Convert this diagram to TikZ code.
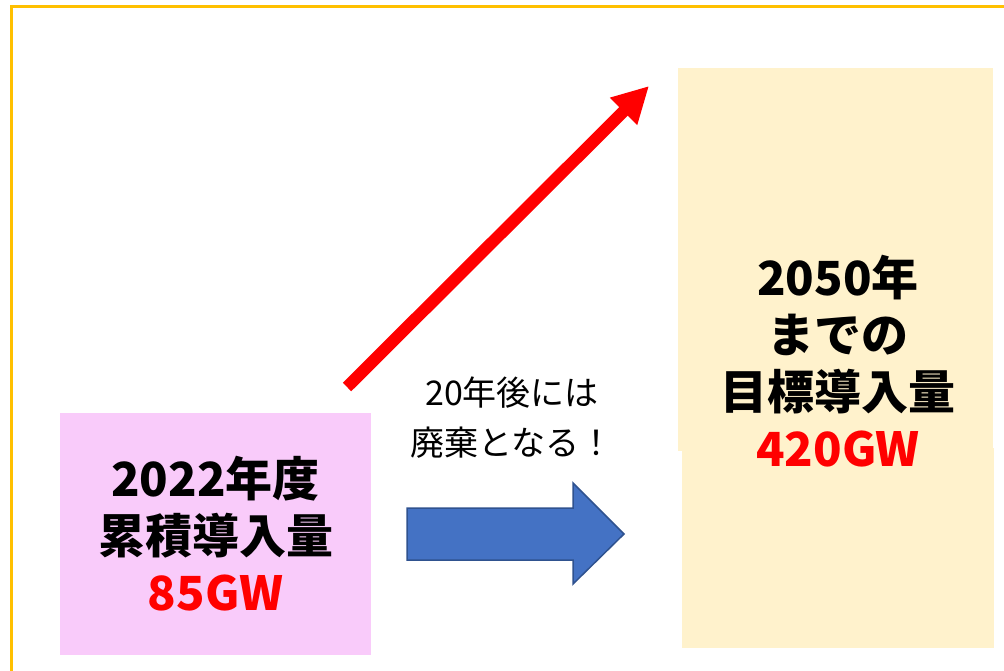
\documentclass[tikz,border=0pt]{standalone}
\usepackage{fontspec}
\newfontfamily\jp{Noto Sans CJK JP}
\usetikzlibrary{arrows.meta}
\definecolor{frameorange}{HTML}{FFC000}
\definecolor{pinkfill}{HTML}{F9CBFA}
\definecolor{creamfill}{HTML}{FFF2CC}
\definecolor{bluefill}{HTML}{4472C4}
\definecolor{blueedge}{HTML}{2F528F}
\tikzset{
  frame/.style={draw=frameorange, line width=3pt},
  pinkbox/.style={fill=pinkfill, draw=none, minimum width=311pt, minimum height=242pt, inner sep=0pt},
  creambox/.style={fill=creamfill, draw=none, inner sep=0pt},
  bigtext/.style={font=\jp\bfseries\fontsize{47pt}{57pt}\selectfont, align=center, text=black},
  midtext/.style={font=\jp\fontsize{34pt}{50pt}\selectfont, align=center, text=black},
  redarrow/.style={draw=red, line width=12pt, -{Triangle[width=36pt,length=36pt]}},
  bluearrow/.style={fill=bluefill, draw=blueedge, line width=1.5pt, line join=miter}
}
\begin{document}
\begin{tikzpicture}[x=1pt,y=-1pt]
\useasboundingbox (0,0) rectangle (1004,671);
\clip (0,0) rectangle (1004,671);
\draw[frame] (11,7) rectangle (1040,710);
% cream target box (two overlapping pieces)
\node[creambox, minimum width=312pt, minimum height=200pt] (targetlow) at (838,548) {};
\node[creambox, minimum width=315pt, minimum height=383pt] (targetbox) at (835.5,259.5) {};
\node[bigtext] (targettext) at (838,361) {2050年\\までの\\目標導入量\\\textcolor{red}{420GW}};
% pink source box
\node[pinkbox] (srcbox) at (215.5,534) {};
\node[bigtext] (srctext) at (215.5,534) {2022年度\\累積導入量\\\textcolor{red}{85GW}};
% red arrow
\coordinate (redtail) at (347,387);
\coordinate (redtip) at (649,86);
\draw[redarrow] (redtail) -- (redtip);
% middle text
\node[midtext] (midnote) at (512,418) {20年後には\\廃棄となる！};
% blue block arrow
\filldraw[bluearrow] (407,508) -- (573,508) -- (573,483) -- (624,534) -- (573,584) -- (573,560) -- (407,560) -- cycle;
\end{tikzpicture}
\end{document}
